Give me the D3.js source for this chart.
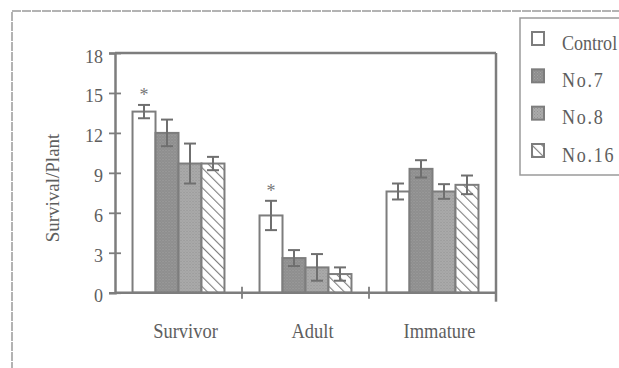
<!DOCTYPE html>
<html>
<head>
<meta charset="utf-8">
<script src="https://cdn.jsdelivr.net/npm/d3@7"></script>
<style>
  html, body { margin: 0; padding: 0; background: #fff; }
  svg { display: block; }
  text { font-family: "Liberation Serif", "DejaVu Serif", serif; fill: #5e5e5e; }
</style>
</head>
<body>
<svg id="chart" width="619" height="368"></svg>
<script>
// Survival per plant, by stage and line
const categories = ["Survivor", "Adult", "Immature"];
const seriesNames = ["Control", "No.7", "No.8", "No.16"];
const controlValues = [13.6, 5.8, 7.6];
const no7Values = [12.0, 2.6, 9.3];
const no8Values = [9.7, 1.9, 7.6];
const no16Values = [9.7, 1.4, 8.1];
const controlErr = [0.5, 1.1, 0.6];
const no7Err = [1.0, 0.6, 0.65];
const no8Err = [1.5, 1.0, 0.55];
const no16Err = [0.5, 0.5, 0.7];
const significant = [true, true, false]; // Control differs (*)
const yTicks = [0, 3, 6, 9, 12, 15, 18];
const yTitle = "Survival/Plant";

const values = [controlValues, no7Values, no8Values, no16Values];
const errors = [controlErr, no7Err, no8Err, no16Err];

const svg = d3.select("#chart");
const grey = "#7d7d7d";

// fill patterns
const defs = svg.append("defs");
function stipple(id, base, dot, size) {
  const p = defs.append("pattern").attr("id", id)
    .attr("patternUnits", "userSpaceOnUse").attr("width", size).attr("height", size);
  p.append("rect").attr("width", size).attr("height", size).attr("fill", base);
  p.append("rect").attr("x", 0).attr("y", 0).attr("width", 1).attr("height", 1).attr("fill", dot);
  p.append("rect").attr("x", size / 2).attr("y", size / 2).attr("width", 1).attr("height", 1).attr("fill", dot);
}
stipple("dots7", "#8d8d8d", "#a2a2a2", 3);
stipple("dots8", "#ababab", "#929292", 3);
const hatch = defs.append("pattern").attr("id", "hatch16")
  .attr("patternUnits", "userSpaceOnUse").attr("width", 7).attr("height", 7)
  .attr("patternTransform", "rotate(-45)");
hatch.append("rect").attr("width", 7).attr("height", 7).attr("fill", "#fff");
hatch.append("line").attr("x1", 0).attr("y1", 0).attr("x2", 0).attr("y2", 7)
  .attr("stroke", grey).attr("stroke-width", 2.2);

const fills = ["#ffffff", "url(#dots7)", "url(#dots8)", "url(#hatch16)"];

// outer frame
svg.append("rect").attr("x", 12).attr("y", 11).attr("width", 640).attr("height", 400)
  .attr("fill", "none").attr("stroke", "#9a9a9a").attr("stroke-width", 1.5)
  .attr("stroke-dasharray", "9,1");

// plot area
const plotLeft = 115, plotRight = 496, plotTop = 53, plotBottom = 292.7;
const y = d3.scaleLinear().domain([0, 18]).range([plotBottom, plotTop]);
const x0 = d3.scaleBand().domain(categories).range([plotLeft, plotRight])
  .paddingInner(0.276).paddingOuter(0.138);
const xEdge = d3.scaleBand().domain(categories).range([plotLeft, plotRight]).padding(0);
const x1 = d3.scaleBand().domain(d3.range(seriesNames.length)).range([0, x0.bandwidth()]);

// bars
const groups = svg.append("g").selectAll("g").data(categories).join("g")
  .attr("transform", d => `translate(${x0(d)},0)`);
groups.each(function (cat, ci) {
  const g = d3.select(this);
  seriesNames.forEach((s, si) => {
    const v = values[si][ci];
    g.append("rect")
      .attr("x", x1(si)).attr("y", y(v))
      .attr("width", x1.bandwidth()).attr("height", y(0) - y(v))
      .attr("fill", fills[si]).attr("stroke", grey).attr("stroke-width", 2);
  });
  // error bars
  seriesNames.forEach((s, si) => {
    const v = values[si][ci], e = errors[si][ci];
    const cx = x1(si) + x1.bandwidth() / 2;
    const eg = g.append("g").attr("stroke", "#6f6f6f").attr("stroke-width", 2);
    eg.append("line").attr("x1", cx).attr("x2", cx).attr("y1", y(v - e)).attr("y2", y(v + e));
    eg.append("line").attr("x1", cx - 6).attr("x2", cx + 6).attr("y1", y(v + e)).attr("y2", y(v + e));
    eg.append("line").attr("x1", cx - 6).attr("x2", cx + 6).attr("y1", y(v - e)).attr("y2", y(v - e));
  });
  if (significant[ci]) {
    const cx = x1(0) + x1.bandwidth() / 2;
    g.append("text").attr("x", cx).attr("y", y(values[0][ci] + errors[0][ci]) - 4)
      .attr("text-anchor", "middle").attr("font-size", 18).style("fill", "#777").text("*");
  }
});

// frame lines: top and right borders
svg.append("line").attr("x1", plotLeft).attr("x2", plotRight).attr("y1", plotTop).attr("y2", plotTop)
  .attr("stroke", grey).attr("stroke-width", 2.5);
svg.append("line").attr("x1", plotRight).attr("x2", plotRight).attr("y1", plotTop).attr("y2", plotBottom + 9)
  .attr("stroke", grey).attr("stroke-width", 2.5);

// y axis
const yAxis = svg.append("g").attr("transform", `translate(${plotLeft},0)`)
  .call(d3.axisLeft(y).tickValues(yTicks).tickSize(6).tickPadding(6));
yAxis.select(".domain").attr("stroke", grey).attr("stroke-width", 2.5);
yAxis.selectAll(".tick line").attr("stroke", grey).attr("stroke-width", 1.8)
  .attr("x1", 6).attr("x2", -6);
yAxis.selectAll(".tick text").attr("font-size", 18).attr("dy", "0.5em");

// x axis line with boundary ticks
svg.append("line").attr("x1", plotLeft).attr("x2", plotRight).attr("y1", plotBottom).attr("y2", plotBottom)
  .attr("stroke", grey).attr("stroke-width", 2.5);
svg.append("g").selectAll("line").data(categories.slice(1)).join("line")
  .attr("x1", d => xEdge(d)).attr("x2", d => xEdge(d))
  .attr("y1", plotBottom - 6).attr("y2", plotBottom + 6)
  .attr("stroke", grey).attr("stroke-width", 1.8);
svg.append("g").selectAll("text").data(categories).join("text")
  .attr("transform", d => `translate(${x0(d) + x0.bandwidth() / 2 + 7},337.5) scale(0.88,1)`)
  .attr("text-anchor", "middle").attr("font-size", 21).text(d => d);

// y title
svg.append("text").attr("transform", "translate(59,188) rotate(-90)")
  .attr("text-anchor", "middle").attr("font-size", 19).text(yTitle);

// legend
const lg = svg.append("g");
lg.append("rect").attr("x", 520).attr("y", 18).attr("width", 120).attr("height", 157)
  .attr("fill", "#fff").attr("stroke", "#9a9a9a").attr("stroke-width", 1.5);
const rowY = d3.scalePoint().domain(seriesNames).range([38.5, 150.5]);
seriesNames.forEach((s, si) => {
  lg.append("rect").attr("x", 532).attr("y", rowY(s) - 6.5).attr("width", 12).attr("height", 13)
    .attr("fill", fills[si]).attr("stroke", grey).attr("stroke-width", 2);
  lg.append("text").attr("transform", `translate(562,${rowY(s) + 11}) scale(0.86,1)`)
    .attr("font-size", 21).attr("letter-spacing", si === 0 ? 0 : 2).text(s);
});
</script>
</body>
</html>
